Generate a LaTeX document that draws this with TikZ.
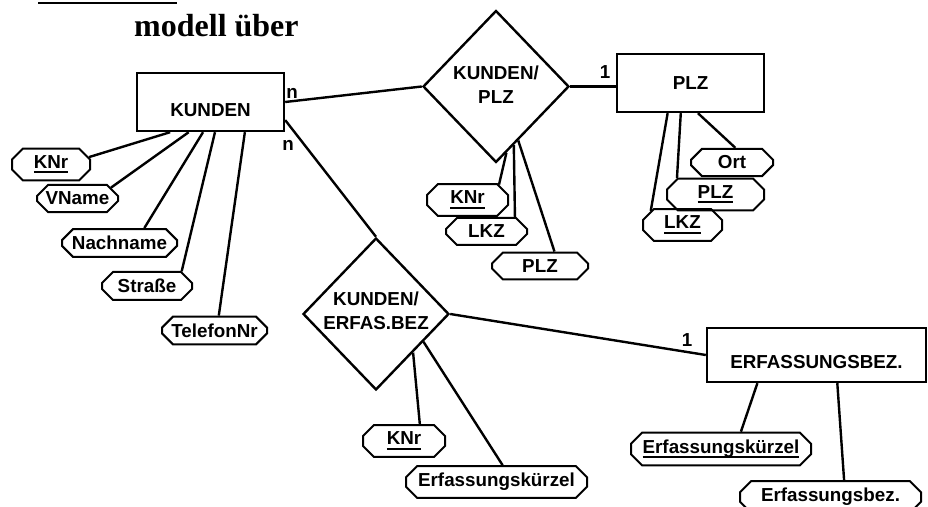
\documentclass[tikz,border=0pt]{standalone}
\usepackage{fontspec}
\setmainfont{Liberation Sans}
\newfontfamily\titlefont{Liberation Serif}
\usetikzlibrary{shapes.misc,shapes.geometric,calc}
\newcommand{\pk}[1]{\setbox0\hbox{#1}\rlap{\rule[-2.5pt]{\wd0}{1.1pt}}\box0}

\begin{document}
\begin{tikzpicture}[x=0.5pt,y=-0.5pt,line width=1.2pt,
  every node/.style={font=\fontsize{9.4}{12}\selectfont\bfseries},
  entity/.style={draw,rectangle,inner sep=0pt},
  rel/.style={draw,diamond,inner sep=0pt,minimum width=73pt,minimum height=76pt},
  attr/.style={draw,chamfered rectangle,chamfered rectangle xsep=2pt,
    chamfered rectangle ysep=3.5pt,line width=1pt,inner sep=0pt}]
\useasboundingbox (0,0) rectangle (928,507);
\clip (0,0) rectangle (928,507);
\draw[line width=1.4pt] (38,3) -- (177,3);
\node[font=\titlefont\fontsize{16}{18}\selectfont\bfseries,anchor=base west,inner sep=0pt] (title) at (133,37) {modell über};
\node[entity,minimum width=73.5pt,minimum height=29pt,text height=14.5pt] (kunden) at (210.5,102) {KUNDEN};
\node[entity,minimum width=73.5pt,minimum height=29pt] (plz) at (690.5,83) {PLZ};
\node[entity,minimum width=109.5pt,minimum height=27pt,text height=14pt] (erf) at (816.5,355) {ERFASSUNGSBEZ.};
\node[rel,label={[align=center,yshift=1pt]center:KUNDEN/\\PLZ}] (kdplz) at (496,86.5) {};
\node[rel,label={[align=center,yshift=1.5pt]center:KUNDEN/\\ERFAS.BEZ}] (kderf) at (376,314) {};
\node (n1) at (292,93) {n};
\node (n2) at (288,145) {n};
\node (c1) at (605,72) {1};
\node (c2) at (687,340) {1};
\draw (kunden.east) -- (kdplz.west);
\draw ($(kunden.south east)!0.2!(kunden.north east)$) -- (kderf.north);
\draw (kdplz.east) -- (kdplz.east -| plz.west);
\draw (kderf.east) -- (erf.west);
\node[attr,minimum width=39pt,minimum height=12.5pt] (knr1) at (51,164.5) {\pk{KNr}};
\node[attr,minimum width=40.5pt,minimum height=11.5pt] (vname) at (77.5,198.5) {VName};
\node[attr,minimum width=57.5pt,minimum height=11pt] (nname) at (119.5,243) {Nachname};
\node[attr,minimum width=45pt,minimum height=14pt] (str) at (147,286) {Straße};
\node[attr,minimum width=52.5pt,minimum height=12.5pt] (tel) at (214.5,330.5) {TelefonNr};
\node[attr,minimum width=41pt,minimum height=13.5pt] (ort) at (732,162.5) {Ort};
\node[attr,minimum width=48.5pt,minimum height=13.5pt] (plz2) at (715.5,194.5) {\pk{PLZ}};
\node[attr,minimum width=39.5pt,minimum height=12pt] (lkz2) at (682.5,225) {\pk{LKZ}};
\node[attr,minimum width=40.5pt,minimum height=13pt] (knr2) at (467.5,200) {\pk{KNr}};
\node[attr,minimum width=40.5pt,minimum height=13.5pt] (lkz1) at (486.5,231.5) {LKZ};
\node[attr,minimum width=48pt,minimum height=13pt] (plz1) at (540,266) {PLZ};
\node[attr,minimum width=41pt,minimum height=12pt] (knr3) at (404,441) {\pk{KNr}};
\node[attr,minimum width=90.5pt,minimum height=15pt] (kurz1) at (496.5,482) {Erfassungskürzel};
\node[attr,minimum width=90pt,minimum height=15pt] (kurz2) at (721,449) {\pk{Erfassungskürzel}};
\node[attr,minimum width=90.5pt,minimum height=14pt] (bez) at (830.5,497) {Erfassungsbez.};
\foreach \t/\a/\w in {0.23/knr1/11,0.354/vname/18,0.45/nname/31,0.53/str/23,0.73/tel/74}
  \draw ($(kunden.south west)!\t!(kunden.south east)$) -- (\a.\w);
\foreach \t/\a/\w in {0.55/ort/77,0.435/plz2/157,0.347/lkz2/156}
  \draw ($(plz.south west)!\t!(plz.south east)$) -- (\a.\w);
\foreach \t/\a/\w in {0.14/knr2/26,0.24/lkz1/27,0.3/plz1/45}
  \draw ($(kdplz.south)!\t!(kdplz.east)$) -- (\a.\w);
\foreach \t/\a/\w in {0.5/knr3/47,0.64/kurz1/70}
  \draw ($(kderf.south)!\t!(kderf.east)$) -- (\a.\w);
\foreach \t/\a/\w in {0.233/kurz2/41,0.594/bez/51}
  \draw ($(erf.south west)!\t!(erf.south east)$) -- (\a.\w);
\end{tikzpicture}
\end{document}
